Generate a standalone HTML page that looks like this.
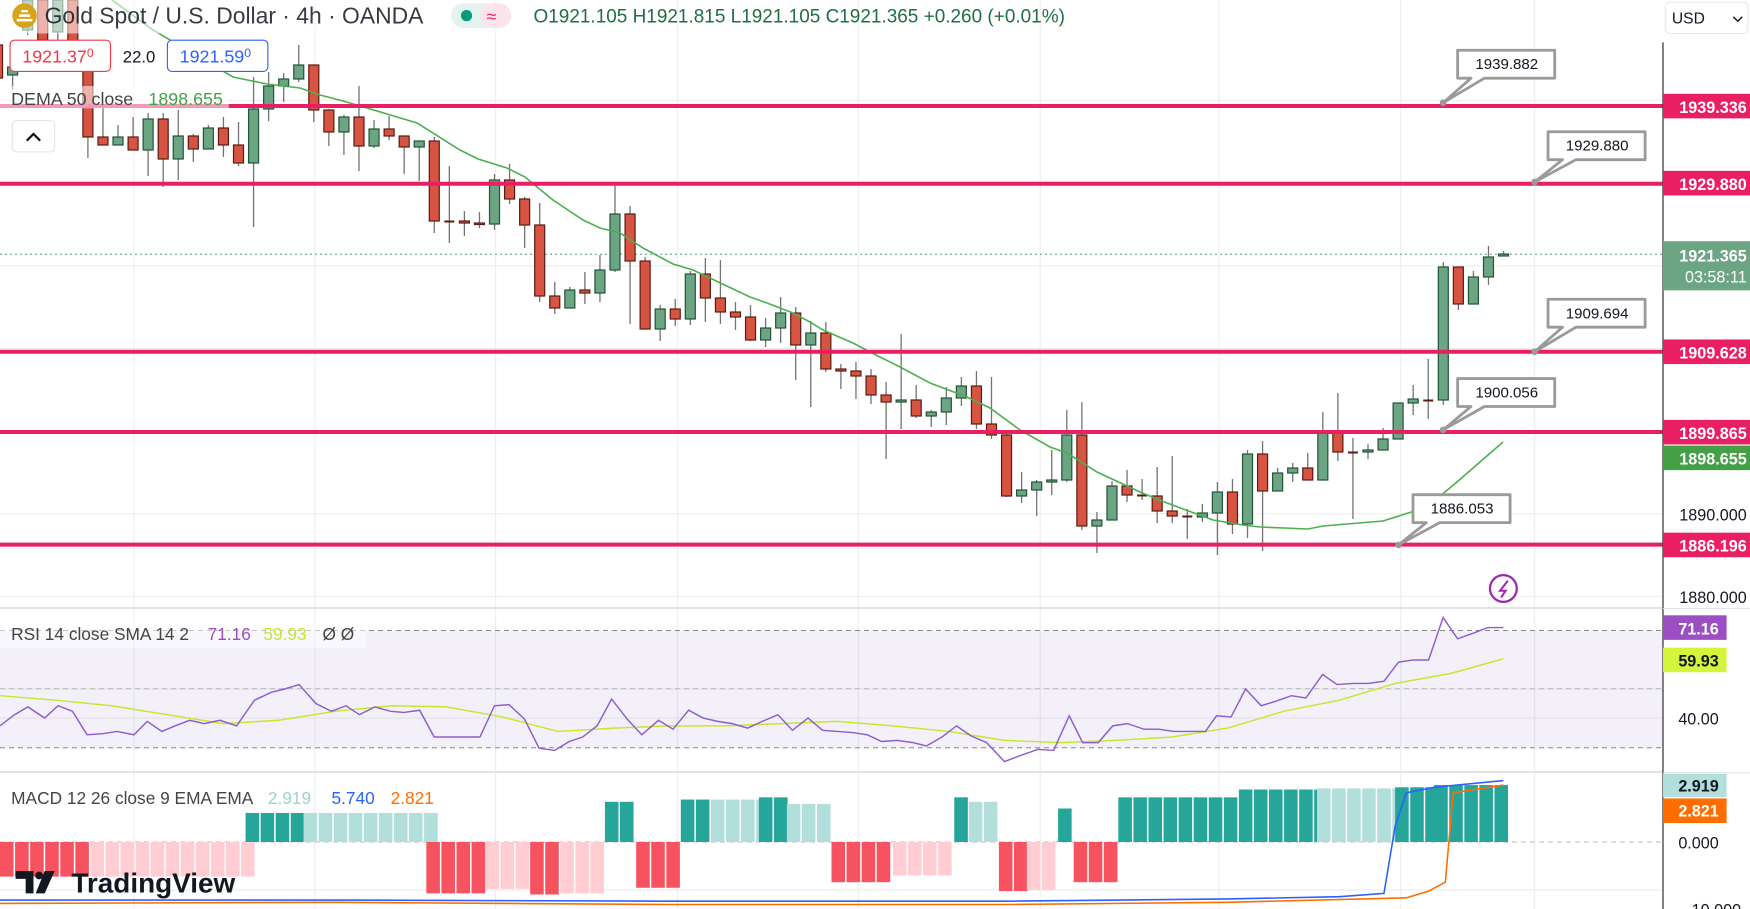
<!DOCTYPE html>
<html><head><meta charset="utf-8"><style>
html,body{margin:0;padding:0;background:#fff;width:1750px;height:909px;overflow:hidden}
svg{display:block;font-family:"Liberation Sans",sans-serif}
</style></head><body>
<svg id="s" width="1750" height="909" viewBox="0 0 1750 909" xmlns="http://www.w3.org/2000/svg">
<rect width="1750" height="909" fill="#fff"/>
<g id="grid" stroke="#eeeeee" stroke-width="1.2"></g>
<rect x="0" y="630.5" width="1663" height="117" fill="#7e57c2" fill-opacity="0.09"/>
<g stroke="#888" stroke-dasharray="5,4" stroke-width="1">
<line x1="0" y1="630.5" x2="1663" y2="630.5"/><line x1="0" y1="688.6" x2="1663" y2="688.6" stroke="#bbb"/><line x1="0" y1="747.7" x2="1663" y2="747.7"/>
<line x1="0" y1="842" x2="1663" y2="842" stroke="#bbb"/>
</g>
<line x1="0" y1="608" x2="1663" y2="608" stroke="#e0e3eb" stroke-width="2"/>
<line x1="0" y1="772" x2="1663" y2="772" stroke="#e0e3eb" stroke-width="2"/>
<line x1="0" y1="254.3" x2="1663" y2="254.3" stroke="#5b9a7a" stroke-dasharray="2,3" stroke-width="1"/>
<g id="macd"></g>
<g id="candles"></g>
<polyline fill="none" stroke="#4caf50" stroke-width="1.6" points="112,0 153,30 233,77 267,84 300,88 320,95 343,101 367,108 417,123 460,150 478,159 507,168 525,177 553,200 583,220 600,228 620,233 643,248 673,264 693,270 750,297 767,303 793,313 810,322 823,330 853,343 870,352 900,367 930,383 967,397 990,408 1020,430 1050,447 1067,453 1097,472 1140,492 1167,503 1213,520 1243,525 1260,527 1308,529 1323,526 1383,521 1427,507 1457,482 1503,442"/>
<g fill="none" stroke="#e91e63" stroke-width="4">
<line x1="0" y1="106" x2="1663" y2="106"/><line x1="0" y1="183.7" x2="1663" y2="183.7"/><line x1="0" y1="351.7" x2="1663" y2="351.7"/><line x1="0" y1="432" x2="1663" y2="432"/><line x1="0" y1="544.6" x2="1663" y2="544.6"/>
</g>
<g id="ind" transform="scale(1.1161,1.1167)">
<polyline fill="none" stroke="#c8e62e" stroke-width="1.3" points="0,623 50,627 100,632 150,640 200,648 250,645 300,637 350,632 400,633 450,642 500,655 550,652 600,650 650,650 700,648 750,646 800,650 850,655 900,663 950,665 1000,663 1050,660 1100,652 1150,637 1200,627 1250,612 1300,603 1347,590"/>
<polyline fill="none" stroke="#8e5ccf" stroke-width="1.3" points="0,650 13,640 25,633 40,643 52,632 65,637 78,658 92,657 105,655 120,658 132,646 145,655 157,650 170,645 183,648 197,645 212,650 228,627 243,620 255,617 268,613 283,630 297,637 310,632 322,640 336,633 350,637 362,638 376,636 389,660 402,660 415,660 430,660 443,632 456,631 470,644 483,670 497,672 510,664 522,660 535,650 548,626 562,644 575,658 590,645 603,653 617,636 630,643 643,646 656,648 670,652 683,646 697,640 710,654 724,643 737,654 750,655 764,656 777,658 790,664 804,663 818,665 830,668 844,660 857,650 870,659 884,665 900,682 913,677 930,671 944,672 958,641 970,665 984,665 997,650 1010,648 1025,653 1038,653 1052,655 1066,655 1080,655 1090,641 1103,642 1116,617 1130,632 1143,628 1157,623 1170,625 1185,604 1198,613 1212,612 1226,612 1240,610 1253,593 1266,591 1280,591 1293,553 1306,572 1320,567 1333,562 1347,562"/>
<polyline fill="none" stroke="#2962ff" stroke-width="1.4" points="0,806 300,806 600,807 900,807 1100,805 1200,803 1240,800 1250,740 1260,710 1285,705 1347,699"/>
<polyline fill="none" stroke="#ff6d00" stroke-width="1.4" points="0,809 300,808 600,810 900,810 1100,808 1260,804 1280,798 1295,790 1302,710 1347,703"/>
<g fill="#fff" stroke="#9a9a9a" stroke-width="2.5">
<path d="M1293,92 L1318,70 L1306,70 L1306,45 L1393,45 L1393,70 L1330,70 Z" stroke-linejoin="round"/>
<path d="M1375,163 L1400,143 L1387,143 L1387,118 L1474,118 L1474,143 L1412,143 Z" stroke-linejoin="round"/>
<path d="M1375,315 L1400,293 L1387,293 L1387,268 L1474,268 L1474,293 L1412,293 Z" stroke-linejoin="round"/>
<path d="M1293,385 L1318,364 L1306,364 L1306,339 L1393,339 L1393,364 L1330,364 Z" stroke-linejoin="round"/>
<path d="M1253,488 L1278,468 L1266,468 L1266,443 L1353,443 L1353,468 L1290,468 Z" stroke-linejoin="round"/>
</g>
<g fill="#9a9a9a"><circle cx="1293" cy="92" r="3"/><circle cx="1375" cy="163" r="3"/><circle cx="1375" cy="315" r="3"/><circle cx="1293" cy="385" r="3"/><circle cx="1253" cy="488" r="3"/></g>
<g font-size="13.5" fill="#131722" text-anchor="middle">
<text x="1350" y="62">1939.882</text><text x="1431" y="135">1929.880</text><text x="1431" y="285">1909.694</text><text x="1350" y="356">1900.056</text><text x="1310" y="460">1886.053</text>
</g>
<rect x="1490" y="0" width="78" height="814" fill="#fff"/>
<line x1="1490" y1="38" x2="1490" y2="814" stroke="#444" stroke-width="1.2"/>
<line x1="1490" y1="545" x2="1568" y2="545" stroke="#e0e3eb"/>
<line x1="1490" y1="692" x2="1568" y2="692" stroke="#e0e3eb"/>
<rect x="1492" y="2" width="74" height="28" rx="4" fill="#fff" stroke="#e8e8e8"/>
<text x="1498" y="21" font-size="14" fill="#131722">USD</text>
<path d="M1553,15 l4,4 l4,-4" fill="none" stroke="#131722" stroke-width="1.3"/>
<g font-size="14.5" font-weight="bold" fill="#fff" text-anchor="end">
<rect x="1490" y="84" width="78" height="22" fill="#e91e63"/><text x="1565" y="101">1939.336</text>
<rect x="1490" y="153" width="78" height="22" fill="#e91e63"/><text x="1565" y="170">1929.880</text>
<rect x="1490" y="216" width="78" height="44" fill="#6ca584"/><text x="1565" y="234">1921.365</text><text x="1565" y="253" font-weight="normal">03:58:11</text>
<rect x="1490" y="304" width="78" height="22" fill="#e91e63"/><text x="1565" y="321">1909.628</text>
<rect x="1490" y="376" width="78" height="22" fill="#e91e63"/><text x="1565" y="393">1899.865</text>
<rect x="1490" y="399" width="78" height="22" fill="#43a047"/><text x="1565" y="416">1898.655</text>
<text x="1565" y="466" fill="#131722" font-weight="normal">1890.000</text>
<rect x="1490" y="477" width="78" height="22" fill="#e91e63"/><text x="1565" y="494">1886.196</text>
<text x="1565" y="540" fill="#131722" font-weight="normal">1880.000</text>
<rect x="1490" y="551" width="57" height="22" fill="#9c4fc3"/><text x="1540" y="568">71.16</text>
<rect x="1490" y="580" width="57" height="22" fill="#d4f53b"/><text x="1540" y="597" fill="#131722">59.93</text>
<text x="1540" y="649" fill="#131722" font-weight="normal">40.00</text>
<rect x="1490" y="693" width="57" height="21" fill="#b2dfdb"/><text x="1540" y="709" fill="#131722">2.919</text>
<rect x="1490" y="715" width="57" height="22" fill="#ff6d00"/><text x="1540" y="731">2.821</text>
<text x="1540" y="760" fill="#131722" font-weight="normal">0.000</text>
<text x="1560" y="820" fill="#131722" font-weight="normal">−10.000</text>
</g>
<rect x="0" y="0" width="470" height="30" fill="#fff" fill-opacity="0.55"/>
<circle cx="22" cy="14" r="11" fill="#d9a21b"/>
<path d="M15,18 h14 M17,14 h10 M19,10 h6" stroke="#fff" stroke-width="2.2"/>
<text x="40" y="21" font-size="20.5" fill="#131722" fill-opacity="0.85">Gold Spot / U.S. Dollar · 4h · OANDA</text>
<rect x="404" y="3" width="54" height="22" rx="11" fill="#e3f3ef"/><rect x="430" y="3" width="28" height="22" rx="11" fill="#fce4ec"/>
<circle cx="418" cy="14" r="5" fill="#089981"/><text x="436" y="20" font-size="16" fill="#e91e63">≈</text>
<text x="478" y="20" font-size="17" fill="#1f6e44">O1921.105  H1921.815  L1921.105  C1921.365 +0.260 (+0.01%)</text>
<rect x="9" y="36" width="90" height="28" rx="4" fill="#fff" stroke="#f23645"/>
<text x="20" y="56" font-size="16" fill="#f23645">1921.37<tspan font-size="11" dy="-5">0</tspan></text>
<text x="110" y="56" font-size="15" fill="#131722">22.0</text>
<rect x="150" y="36" width="90" height="28" rx="4" fill="#fff" stroke="#2962ff"/>
<text x="161" y="56" font-size="16" fill="#2962ff">1921.59<tspan font-size="11" dy="-5">0</tspan></text>
<rect x="0" y="77" width="205" height="20" fill="#fff" fill-opacity="0.55"/>
<text x="10" y="94" font-size="16" fill="#444">DEMA 50 close</text><text x="133" y="94" font-size="16" fill="#43a047">1898.655</text>
<rect x="11" y="108" width="38" height="28" rx="4" fill="#fff" stroke="#e0e3eb"/>
<path d="M24,126 l6,-6 l6,6" fill="none" stroke="#131722" stroke-width="2"/>
<circle cx="1347" cy="527" r="12" fill="none" stroke="#9c27b0" stroke-width="2"/>
<path d="M1351,520 l-7,9 h5 l-4,6" fill="none" stroke="#9c27b0" stroke-width="1.8"/>
<rect x="0" y="556" width="328" height="24" fill="#fff" fill-opacity="0.5"/>
<text x="10" y="573" font-size="15.5" fill="#444">RSI 14 close SMA 14 2</text>
<text x="186" y="573" font-size="15.5" fill="#9c4fc3">71.16</text><text x="236" y="573" font-size="15.5" fill="#c6e52b">59.93</text>
<text x="289" y="573" font-size="15.5" fill="#444">Ø  Ø</text>
<text x="10" y="720" font-size="15.5" fill="#444">MACD 12 26 close 9 EMA EMA</text>
<text x="240" y="720" font-size="15.5" fill="#9bd3cd">2.919</text><text x="297" y="720" font-size="15.5" fill="#2962ff">5.740</text><text x="350" y="720" font-size="15.5" fill="#ff6d00">2.821</text>
<g transform="translate(14,778)">
<path d="M0,2 h16 v20 h-7 v-13 h-9 z" fill="#131722"/><circle cx="21" cy="6" r="3.5" fill="#131722"/><path d="M26,2 h9 l-9,20 h-8 z" fill="#131722"/>
<text x="50" y="21" font-size="25" font-weight="bold" fill="#131722">TradingView</text>
</g>
</g>
</svg>
<script>
var NS="http://www.w3.org/2000/svg";
function el(p,t,a){var e=document.createElementNS(NS,t);for(var k in a)e.setAttribute(k,a[k]);p.appendChild(e);return e;}
var grid=document.getElementById('grid');
[120,282,444,607,769,932,1092,1255,1375].forEach(function(x){el(grid,'line',{x1:x*1.1161,y1:0,x2:x*1.1161,y2:909});});
[90,164,238,312,386,460,534,617,643,797].forEach(function(y){el(grid,'line',{x1:0,y1:y*1.1167,x2:1663,y2:y*1.1167});});
var C=[[-1,'r',45,78,40,80],[0,'g',67,75,60,90],[1,'g',0,30,0,35],[2,'r',0,40,0,45],[3,'g',0,32,0,40],[4,'r',0,45,0,50],[5,'r',45,137,40,158],
[6,'r',137,145,108,145],[7,'g',137,145,125,145],[8,'r',137,150,117,150],[9,'g',119,150,113,176],[10,'r',119,159,113,187],[11,'g',136,159,110,180],[12,'r',136,149,134,162],[13,'g',128,149,125,149],[14,'r',128,145,117,157],[15,'r',145,163,122,166],[16,'g',109,163,77,227],[17,'g',86,109,72,121],[18,'g',79,86,73,102],[19,'g',65,79,45,82],[20,'r',65,110,65,122],[21,'r',110,132,109,146],[22,'g',117,132,115,155],[23,'r',117,146,86,171],[24,'g',129,146,120,148],[25,'r',129,136,116,140],[26,'r',136,147,136,174],[27,'g',141,147,141,181],[28,'r',141,221,137,233],[29,'d',221,222,166,243],
[30,'r',221,223,211,236],[31,'r',223,224,212,228],[32,'g',180,224,174,230],[33,'r',180,199,164,204],[34,'r',199,225,197,248],[35,'r',225,296,203,302],[36,'r',296,308,282,314],[37,'g',290,308,287,308],[38,'r',290,293,272,304],[39,'g',270,293,255,302],[40,'g',214,270,182,272],[41,'r',214,261,206,324],[42,'r',261,329,257,329],[43,'g',309,329,305,341],[44,'r',309,319,299,326],[45,'g',274,319,271,325],[46,'r',274,298,258,322],[47,'r',298,312,260,324],[48,'r',312,317,302,330],[49,'r',317,340,305,341],[50,'g',328,340,318,347],[51,'g',313,328,297,343],[52,'r',313,345,307,380],[53,'g',333,345,321,407],[54,'r',333,369,322,372],[55,'r',369,371,364,389],[56,'r',371,376,362,399],[57,'r',376,395,369,404],[58,'r',395,402,382,459],
[59,'g',400,402,334,429],[60,'r',400,416,385,418],[61,'g',412,416,410,427],[62,'g',398,412,387,425],[63,'g',386,398,377,406],[64,'r',386,424,371,429],[65,'r',424,435,377,439],[66,'r',435,496,433,497],[67,'g',490,496,472,503],[68,'g',482,490,480,516],[69,'g',480,482,450,495],[70,'g',435,480,410,482],[71,'r',435,526,402,530],[72,'g',520,526,512,553],[73,'g',486,520,481,520],[74,'r',486,495,470,502],[75,'d',495,496,479,500],[76,'r',496,511,467,523],[77,'r',511,516,456,523],[78,'d',516,517,509,539],[79,'g',513,517,504,522],[80,'g',492,513,482,555],[81,'r',492,524,479,534],[82,'g',454,524,450,538],[83,'r',454,491,441,551],[84,'g',473,491,468,491],[85,'g',468,473,463,482],[86,'r',468,480,453,480],[87,'g',431,480,412,480],[88,'r',431,452,393,461],[89,'d',452,453,438,519],[90,'g',450,452,444,459],[91,'g',439,450,428,450],[92,'g',403,439,403,439],[93,'g',399,403,385,415],[94,'d',400,401,359,419],[95,'g',267,400,262,405],[96,'r',267,304,267,310],[97,'g',277,304,271,304],[98,'g',257,277,246,285],[99,'g',254,256,251,256]];
var cg=document.getElementById('candles');
C.forEach(function(c){var x=12.6+15.06*c[0];
 el(cg,'line',{x1:x,y1:c[4],x2:x,y2:c[5],stroke:'#737375','stroke-width':1.3});
 if(c[1]=='d'){el(cg,'rect',{x:x-5,y:c[2]-0.5,width:10,height:2,fill:'#5b1a13'});return;}
 var g=c[1]=='g';
 el(cg,'rect',{x:x-5,y:c[2],width:10,height:Math.max(c[3]-c[2],1.5),fill:g?'#6ba583':'#d75442',stroke:g?'#225437':'#5b1a13','stroke-width':1.2});
});
var mg=document.getElementById('macd');
var segs=[[0,220,785,'r'],[220,272,728,'G'],[272,382,728,'L'],[382,435,800,'r'],[435,475,796,'p'],[475,502,801,'r'],[502,542,800,'p'],[542,570,718,'G'],[570,610,795,'r'],[610,637,716,'G'],[637,680,716,'L'],[680,705,714,'G'],[705,745,720,'L'],[745,800,790,'r'],[800,855,784,'p'],[855,868,714,'G'],[868,895,718,'L'],[895,920,798,'r'],[920,948,797,'p'],[948,962,724,'G'],[962,1002,790,'r'],[1002,1110,714,'G'],[1110,1180,707,'G'],[1180,1250,706,'L'],[1250,1285,705,'G'],[1285,1353,703,'G']];
var col={r:'#f7525f',p:'#ffcdd2',G:'#26a69a',L:'#b2dfdb'};
segs.forEach(function(s){for(var x=s[0];x<s[1]-1;x+=13.5){var y0=754*1.1167,y1=s[2]*1.1167;
 var t=s[3];if(t=='r'&&s[0]==0&&x>70)t='p';
 el(mg,'rect',{x:x*1.1161,y:Math.min(y0,y1),width:13.5*1.1161-1.5,height:Math.abs(y1-y0),fill:col[t]});}});
</script>
</body></html>
